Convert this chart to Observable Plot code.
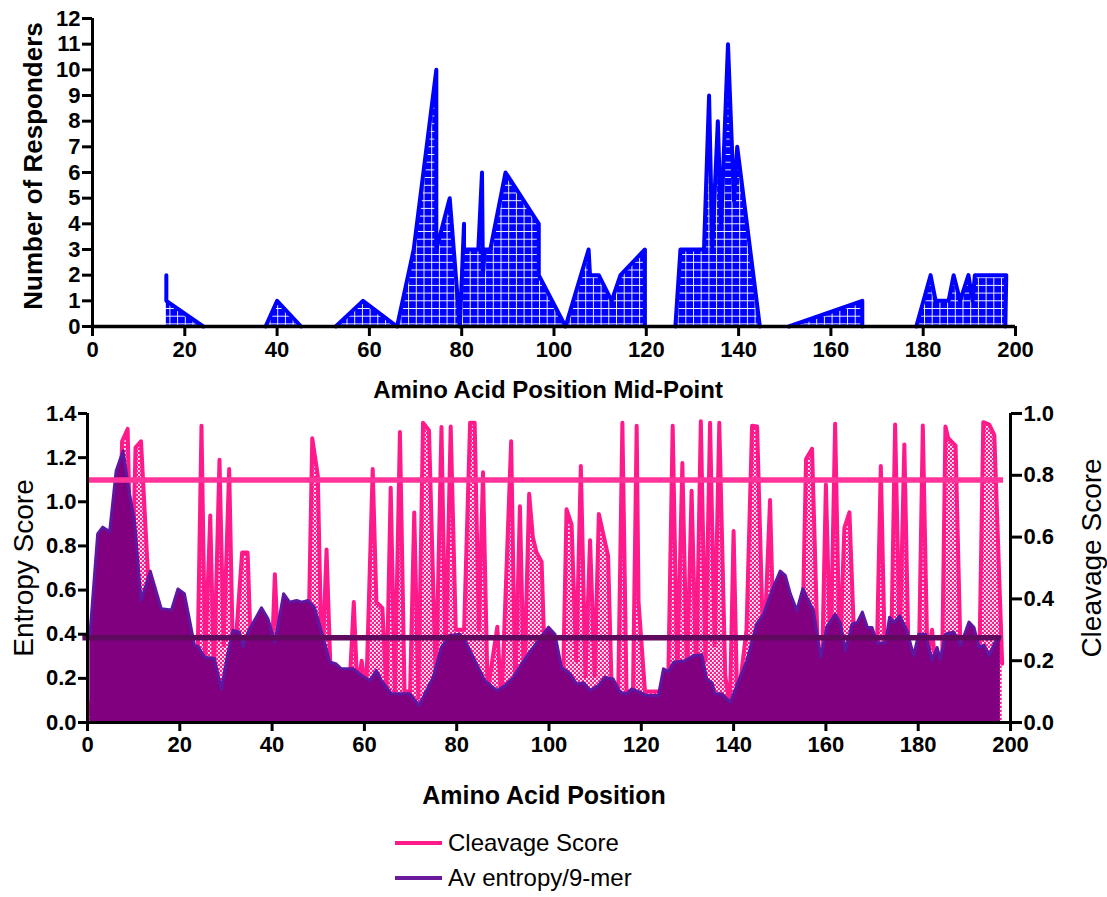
<!DOCTYPE html>
<html>
<head>
<meta charset="utf-8">
<script src="https://cdn.jsdelivr.net/npm/d3@7"></script>
<script src="https://cdn.jsdelivr.net/npm/@observablehq/plot@0.6"></script>
<style>
  html, body { margin: 0; padding: 0; background: #fff; }
  #wrap { position: relative; width: 1107px; height: 897px; overflow: hidden; font-family: "Liberation Sans", Arial, sans-serif; color: #000; }
  .abs { position: absolute; white-space: nowrap; }
  .title { font-weight: bold; transform: translate(-50%, -50%); }
  .rot { transform: translate(-50%, -50%) rotate(-90deg); }
  .leg { position: absolute; font-size: 24px; white-space: nowrap; }
  .legline { position: absolute; height: 4px; }
</style>
</head>
<body>
<div id="wrap">
  <div id="topChart" class="abs" style="left:0;top:0"></div>
  <div id="botChart" class="abs" style="left:0;top:400px"></div>
  <div class="abs rot" style="left:33px;top:166px;font-size:26px;font-weight:bold">Number of Responders</div>
  <div class="abs title" style="left:548px;top:390px;font-size:24px">Amino Acid Position Mid-Point</div>
  <div class="abs rot" style="left:24px;top:568px;font-size:28px">Entropy Score</div>
  <div class="abs rot" style="left:1092px;top:558px;font-size:28px">Cleavage Score</div>
  <div class="abs title" style="left:544px;top:795px;font-size:25px">Amino Acid Position</div>
  <div class="legline" style="left:395px;top:841px;width:47px;background:#ff1a8c"></div>
  <div class="leg" style="left:448px;top:829px">Cleavage Score</div>
  <div class="legline" style="left:395px;top:876px;width:47px;background:#6c1a9c"></div>
  <div class="leg" style="left:448px;top:864px">Av entropy/9-mer</div>
</div>
<script>
// ---------- Data ----------
const xTicks = [0, 20, 40, 60, 80, 100, 120, 140, 160, 180, 200];
const responderTicks = [0, 1, 2, 3, 4, 5, 6, 7, 8, 9, 10, 11, 12];
const entropyTicks = [0, 0.2, 0.4, 0.6, 0.8, 1.0, 1.2, 1.4];
const cleavageTicks = [0, 0.2, 0.4, 0.6, 0.8, 1.0];

// null = no responders recorded between mapped regions (gap in the trace)
const respPos = [16, 16, 24, 30, 37.5, 40, 45.2, 49, 52.7, 58.6, 66, 69.6, 74.5, 74.5, 77.4, 79.6, 80.5, 80.5, 83.6, 84.4, 84.6, 85, 86.2, 89.5, 96.7, 96.7, 102.5, 107.5, 107.8, 109.7, 112.5, 114.4, 119.7, 119.7, 123, 126.3, 127.4, 132.5, 133.6, 134.3, 135.5, 136.2, 137.7, 139, 139.7, 144.6, 148, 150.9, 166.8, 166.8, 172, 178.5, 181.6, 182.7, 185.5, 186.6, 188, 189.8, 190.7, 191.2, 197.5, 198, 197.8];
const respCount = [2, 1, 0, null, 0, 1, 0, null, 0, 1, 0, 3, 10, 3, 5, 0, 4, 3, 3, 6, 2, 3, 3, 6, 4, 2, 0, 3, 2, 2, 1, 2, 3, 0, null, 0, 3, 3, 9, 3.1, 8, 3.9, 11, 4.9, 7, 0, null, 0, 1, 0, null, 0, 2, 1, 1, 2, 1, 2, 1, 2, 2, 2, 0];

const entropyPos = [0.5, 2.2, 3.3, 4.8, 6.2, 7.7, 9.1, 10.2, 11.6, 13.6, 16.0, 18.2, 19.6, 21.0, 23.2, 23.9, 25.4, 27.5, 29.0, 30.4, 31.5, 32.9, 33.7, 34.8, 37.7, 39.1, 40.6, 42.5, 43.8, 45.3, 46.4, 47.8, 49.2, 51.2, 52.5, 53.9, 55.0, 57.6, 59.4, 61.2, 62.6, 63.7, 65.9, 67.7, 69.8, 71.9, 73.1, 74.9, 76.7, 78.5, 80.7, 82.1, 84.3, 86.1, 88.7, 90.5, 92.3, 94.1, 95.9, 97.7, 99.9, 101.3, 102.7, 104.6, 106.0, 107.5, 108.9, 110.7, 112.1, 113.9, 115.4, 116.8, 117.9, 119.7, 121.2, 123.7, 124.8, 125.9, 127.0, 129.5, 131.3, 133.1, 134.2, 135.3, 136.0, 137.4, 139.3, 141.1, 142.9, 145.0, 146.5, 148.3, 150.1, 151.2, 152.3, 153.7, 155.0, 156.2, 157.3, 158.9, 160.2, 162.0, 163.1, 164.2, 165.7, 166.8, 167.9, 169.0, 170.0, 171.1, 172.9, 173.8, 174.7, 176.0, 177.6, 179.0, 180.1, 181.6, 183.0, 184.1, 184.8, 185.9, 187.7, 189.2, 191.0, 192.1, 193.2, 194.3, 195.4, 196.5, 197.5, 197.8];
const entropyVal = [0.39, 0.855, 0.885, 0.865, 1.14, 1.23, 1.036, 0.915, 0.553, 0.686, 0.515, 0.51, 0.605, 0.583, 0.349, 0.345, 0.296, 0.29, 0.153, 0.311, 0.417, 0.41, 0.341, 0.41, 0.52, 0.47, 0.364, 0.583, 0.545, 0.553, 0.545, 0.553, 0.52, 0.375, 0.275, 0.265, 0.243, 0.243, 0.213, 0.19, 0.236, 0.19, 0.13, 0.13, 0.13, 0.077, 0.13, 0.205, 0.341, 0.394, 0.40, 0.36, 0.266, 0.19, 0.145, 0.167, 0.205, 0.266, 0.32, 0.372, 0.432, 0.40, 0.25, 0.22, 0.175, 0.18, 0.145, 0.167, 0.205, 0.197, 0.137, 0.13, 0.152, 0.137, 0.122, 0.122, 0.243, 0.23, 0.273, 0.28, 0.303, 0.307, 0.197, 0.18, 0.13, 0.13, 0.092, 0.19, 0.281, 0.447, 0.49, 0.598, 0.686, 0.666, 0.583, 0.507, 0.606, 0.553, 0.507, 0.296, 0.432, 0.49, 0.453, 0.326, 0.447, 0.453, 0.50, 0.43, 0.43, 0.36, 0.36, 0.477, 0.453, 0.483, 0.415, 0.303, 0.40, 0.40, 0.281, 0.34, 0.286, 0.40, 0.41, 0.35, 0.455, 0.43, 0.34, 0.35, 0.303, 0.357, 0.387, 0.387];

const cleavagePos = [0.4, 6.8, 7.5, 8.7, 9.6, 10.4, 11.6, 13.1, 14.2, 23.8, 24.7, 25.5, 26.6, 27.4, 28.6, 29.5, 30.7, 31.6, 33.5, 34.7, 35.6, 39.8, 40.6, 41.6, 47.8, 48.7, 49.9, 50.8, 51.8, 52.7, 56.9, 57.7, 58.5, 59.4, 60.4, 61.8, 62.6, 63.9, 64.8, 65.7, 66.6, 67.7, 68.7, 69.9, 70.8, 71.7, 72.7, 74.0, 75.5, 76.7, 77.6, 78.7, 79.8, 81.6, 82.9, 83.9, 84.8, 85.7, 86.7, 88.8, 89.7, 91.8, 92.7, 93.7, 94.6, 95.7, 96.5, 97.3, 98.4, 99.3, 103.0, 103.8, 104.9, 105.9, 106.9, 107.9, 108.9, 109.9, 110.8, 112.8, 113.6, 115.0, 115.9, 116.8, 118.2, 119.0, 119.4, 120.8, 125.8, 126.8, 127.8, 128.9, 129.9, 130.9, 131.9, 132.9, 133.9, 134.9, 135.9, 136.9, 138.2, 139.2, 140.0, 140.8, 142.8, 144.0, 145.1, 146.5, 147.9, 148.8, 154.8, 155.7, 157.0, 158.3, 159.2, 160.0, 161.0, 162.0, 163.0, 164.0, 165.1, 166.3, 171.0, 171.9, 172.8, 174.1, 175.0, 176.0, 177.0, 178.0, 180.1, 181.0, 182.0, 183.0, 184.0, 185.2, 185.9, 186.5, 188.1, 189.3, 193.2, 194.1, 195.4, 196.5, 198.2];
const cleavageVal = [0.03, 0.55, 0.91, 0.95, 0.35, 0.89, 0.91, 0.48, 0.15, 0.15, 0.96, 0.2, 0.67, 0.15, 0.85, 0.25, 0.82, 0.15, 0.55, 0.55, 0.15, 0.15, 0.48, 0.15, 0.2, 0.92, 0.8, 0.15, 0.56, 0.15, 0.15, 0.39, 0.1, 0.2, 0.1, 0.82, 0.39, 0.37, 0.1, 0.76, 0.1, 0.94, 0.1, 0.1, 0.68, 0.08, 0.97, 0.945, 0.12, 0.956, 0.2, 0.958, 0.3, 0.3, 0.97, 0.97, 0.3, 0.81, 0.1, 0.31, 0.05, 0.91, 0.1, 0.70, 0.1, 0.74, 0.6, 0.55, 0.52, 0.1, 0.1, 0.69, 0.64, 0.2, 0.83, 0.15, 0.59, 0.15, 0.675, 0.54, 0.1, 0.1, 0.97, 0.1, 0.1, 0.96, 0.39, 0.1, 0.1, 0.96, 0.15, 0.84, 0.15, 0.75, 0.15, 0.975, 0.2, 0.97, 0.25, 0.97, 0.15, 0.05, 0.62, 0.05, 0.3, 0.96, 0.958, 0.2, 0.72, 0.2, 0.2, 0.853, 0.886, 0.2, 0.2, 0.77, 0.2, 0.967, 0.2, 0.63, 0.68, 0.2, 0.2, 0.83, 0.2, 0.2, 0.964, 0.25, 0.90, 0.15, 0.15, 0.961, 0.2, 0.3, 0.15, 0.2, 0.958, 0.92, 0.896, 0.15, 0.15, 0.972, 0.964, 0.93, 0.19];

const cleavageThreshold = 0.785;
const entropyMean = 0.384;

// ---------- Build tables ----------
const responders = respPos.map((p, i) => ({ p, n: respCount[i] }));
const entropy = entropyPos.map((p, i) => ({ p, e: entropyVal[i] }));
const cleavage = cleavagePos.map((p, i) => ({ p, c: cleavageVal[i] }));
const CMAX = 1.4; // cleavage 1.0 maps to entropy 1.4 on the shared vertical scale

const font = { fontFamily: "'Liberation Sans', Arial, sans-serif", background: "transparent", overflow: "visible", color: "#000" };

function addDefs(svg, markup) {
  const defs = document.createElementNS("http://www.w3.org/2000/svg", "defs");
  defs.innerHTML = markup;
  svg.insertBefore(defs, svg.firstChild);
}

// ---------- Top chart ----------
const topPlot = Plot.plot({
  width: 1107, height: 370,
  marginLeft: 92, marginRight: 92, marginTop: 18, marginBottom: 44,
  x: { domain: [0, 200] },
  y: { domain: [0, 12] },
  style: font,
  marks: [
    Plot.area(responders, { x1: "p", y1: 0, y2: "n", fill: "url(#gridFill)" }),
    Plot.line(responders, { x: "p", y: "n", stroke: "#0000ff", strokeWidth: 4, strokeLinejoin: "round", strokeLinecap: "round" }),
    Plot.ruleY([0], { stroke: "#000", strokeWidth: 3.5 }),
    Plot.ruleX([0], { stroke: "#000", strokeWidth: 3 }),
    Plot.axisY(responderTicks, { tickSize: 10, tickPadding: 2, strokeWidth: 3, label: null, fontSize: 22, fontWeight: "bold", tickFormat: d => String(d) }),
    Plot.axisX(xTicks, { tickSize: 10, tickPadding: 5, strokeWidth: 3, label: null, fontSize: 22, fontWeight: "bold", tickFormat: d => String(d) })
  ]
});
addDefs(topPlot, `<pattern id="gridFill" width="7.7" height="7.7" patternUnits="userSpaceOnUse">
  <rect width="7.7" height="7.7" fill="#0000ff"/>
  <path d="M0 0.5H7.7M0.5 0V7.7" stroke="#eef0ff" stroke-width="1"/>
</pattern>`);
document.getElementById("topChart").appendChild(topPlot);

// ---------- Bottom chart ----------
const botPlot = Plot.plot({
  width: 1107, height: 370,
  marginLeft: 87, marginRight: 97, marginTop: 13, marginBottom: 48,
  x: { domain: [0, 200] },
  y: { domain: [0, 1.4] },
  style: font,
  marks: [
    Plot.area(cleavage, { x1: "p", y1: 0, y2: d => d.c * CMAX, fill: "url(#checkFill)" }),
    Plot.line(cleavage, { x: "p", y: d => d.c * CMAX, stroke: "#ff1a8c", strokeWidth: 4, strokeLinejoin: "round" }),
    Plot.area(entropy, { x1: "p", y1: 0, y2: "e", fill: "#800080" }),
    Plot.line(entropy, { x: "p", y: "e", stroke: "#5d17a3", strokeWidth: 3, strokeLinejoin: "round" }),
    Plot.ruleY([cleavageThreshold * CMAX], { x1: 0, x2: 198.5, stroke: "#ff3399", strokeWidth: 5.5 }),
    Plot.ruleY([entropyMean], { x1: -1, x2: 198, stroke: "#5f0a5f", strokeWidth: 5.5 }),
    Plot.ruleY([0], { stroke: "#000", strokeWidth: 3 }),
    Plot.ruleX([0], { stroke: "#000", strokeWidth: 3 }),
    Plot.ruleX([200], { stroke: "#000", strokeWidth: 3 }),
    Plot.axisY(entropyTicks, { anchor: "left", tickSize: 9, tickPadding: 2, strokeWidth: 3, label: null, fontSize: 22, fontWeight: "bold", tickFormat: d3.format(".1f") }),
    Plot.axisY(cleavageTicks.map(c => c * CMAX), { anchor: "right", tickSize: 11, tickPadding: 2, strokeWidth: 3, label: null, fontSize: 22, fontWeight: "bold", tickFormat: d => (d / CMAX).toFixed(1) }),
    Plot.axisX(xTicks, { tickSize: 9, tickPadding: 5, strokeWidth: 3, label: null, fontSize: 22, fontWeight: "bold", tickFormat: d => String(d) })
  ]
});
addDefs(botPlot, `<pattern id="checkFill" width="4" height="4" patternUnits="userSpaceOnUse">
  <rect width="4" height="4" fill="#ff1a8c"/>
  <rect width="1.8" height="1.8" fill="#fff"/>
  <rect x="2" y="2" width="1.8" height="1.8" fill="#fff"/>
</pattern>`);
document.getElementById("botChart").appendChild(botPlot);
</script>
</body>
</html>
